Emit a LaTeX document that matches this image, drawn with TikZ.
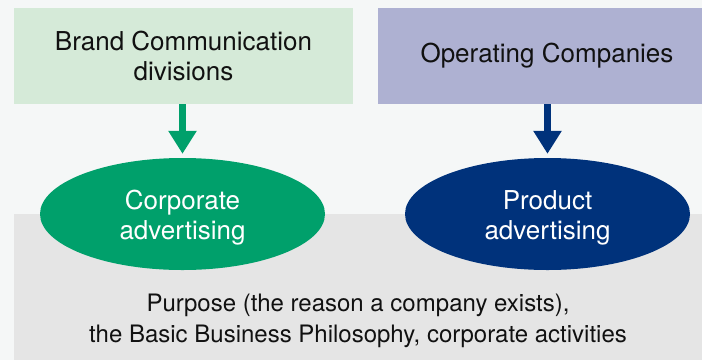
\documentclass[tikz,border=0pt]{standalone}
\usepackage{fontspec}
\setmainfont{TeX Gyre Heros}
\usepackage{xcolor}
\usepackage{tikz}
\usetikzlibrary{arrows.meta,positioning,shapes.geometric}

\definecolor{pagebg}{HTML}{F5F7F7}
\definecolor{brandbg}{HTML}{D5EAD8}
\definecolor{opcobg}{HTML}{AEB1D2}
\definecolor{basegray}{HTML}{E5E5E5}
\definecolor{corpgreen}{HTML}{00A06B}
\definecolor{prodblue}{HTML}{00327B}
\definecolor{inktext}{HTML}{111111}

\begin{document}
\begin{tikzpicture}
  [
    x=1pt, y=-1pt,
    every node/.style={font=\fontsize{26}{30}\selectfont,align=center,inner sep=0pt,text=inktext},
    headbox/.style={rectangle,minimum height=96pt},
    advert/.style={ellipse,minimum width=285pt,minimum height=112pt},
    adtext/.style={yshift=-4pt,text=white},
    feed/.style={line width=7.5pt,shorten >=4pt,-{Triangle[width=27pt,length=23pt]}}
  ]
  \useasboundingbox (0,0) rectangle (702,360);
  \fill[pagebg] (0,0) rectangle (702,360);

  % the two sources
  \node[headbox,fill=brandbg,minimum width=339pt] (brand) at (183.5,56) {Brand Communication\\divisions};
  \node[headbox,fill=opcobg,minimum width=324pt,
    label={[xshift=7pt]center:Operating Companies}] (opco) at (540,56) {};

  % common ground underneath
  \node[rectangle,fill=basegray,minimum width=688pt,minimum height=146pt,
    label={[yshift=-34pt,font=\fontsize{24}{31}\selectfont]center:{Purpose (the reason a company exists),\\the Basic Business Philosophy, corporate activities}}] (base) at (358,287) {};

  \node[advert,fill=corpgreen,label={[adtext]center:{Corporate\\advertising}}] (corp) at (182.5,214) {};
  \node[advert,fill=prodblue,label={[adtext]center:{Product\\advertising}}] (prod) at (547.5,214) {};

  \draw[feed,corpgreen] (corp.north |- brand.south) -- (corp.north);
  \draw[feed,prodblue] (prod.north |- opco.south) -- (prod.north);
\end{tikzpicture}
\end{document}
